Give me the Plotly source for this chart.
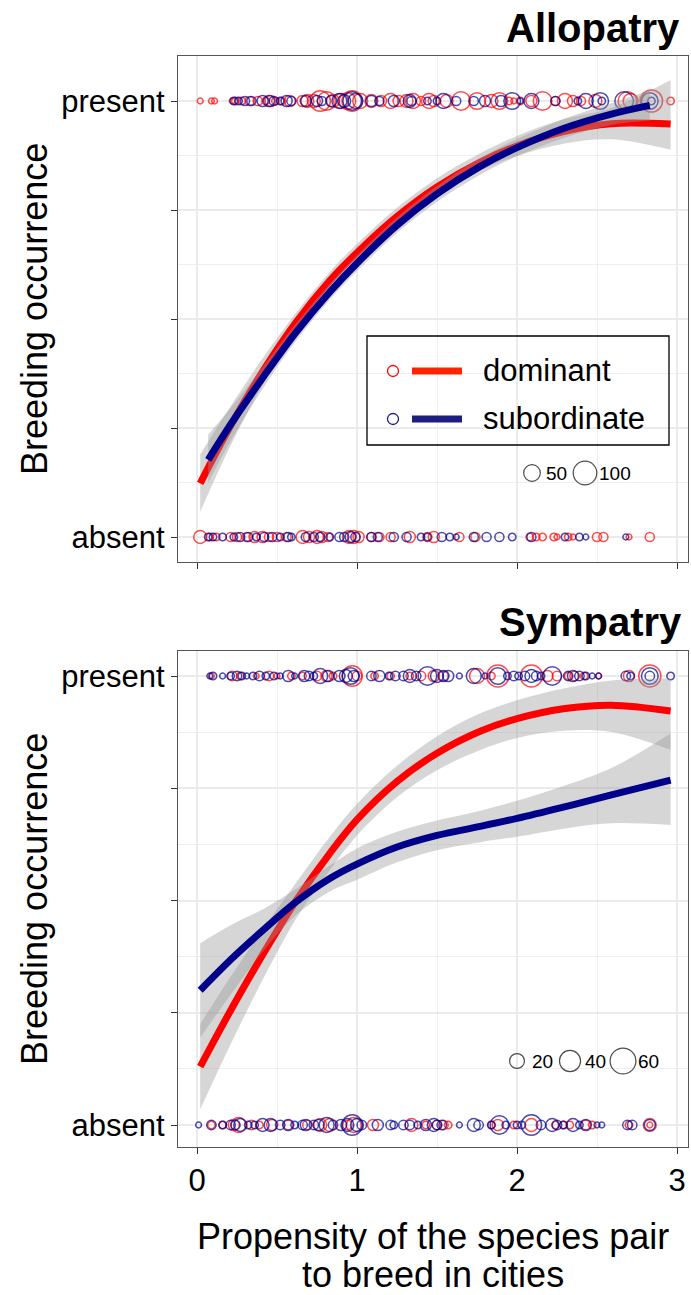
import plotly.graph_objects as go

# ---------------- data ----------------
# Allopatry (top panel) : raw observations (x = propensity, n = sample size)
allo_dom_pres_x = [0.02,0.09,0.11,0.22,0.24,0.28,0.33,0.38,0.43,0.46,0.49,0.53,0.58,0.66,0.69,0.73,0.77,0.81,0.85,0.90,0.94,0.97,1.02,1.09,1.15,1.21,1.26,1.31,1.35,1.40,1.45,1.48,1.56,1.65,1.75,1.84,1.89,1.95,1.98,2.02,2.09,2.16,2.24,2.30,2.35,2.40,2.49,2.69,2.71,2.84,2.96]
allo_dom_pres_n = [6,6,6,6,10,10,15,15,10,22,10,10,22,22,30,30,75,62,30,40,50,75,40,30,22,40,22,30,40,15,40,22,30,62,50,30,50,10,6,10,22,62,15,40,22,15,30,62,40,89,10]
allo_sub_pres_x = [0.23,0.26,0.30,0.34,0.41,0.45,0.48,0.52,0.56,0.59,0.68,0.75,0.78,0.84,0.89,0.92,0.97,0.99,1.09,1.14,1.23,1.33,1.34,1.44,1.50,1.54,1.62,1.73,1.80,1.90,1.97,2.02,2.09,2.24,2.38,2.43,2.52,2.53,2.67,2.83,2.84]
allo_sub_pres_n = [10,10,15,15,22,22,15,10,22,15,22,22,15,22,40,30,62,40,22,15,22,30,15,10,10,40,15,15,22,22,50,6,40,15,10,40,50,10,62,50,10]
allo_dom_abs_x = [0.02,0.08,0.12,0.21,0.25,0.31,0.36,0.41,0.45,0.50,0.56,0.66,0.70,0.75,0.78,0.82,0.95,0.98,1.01,1.09,1.14,1.21,1.33,1.44,1.48,1.64,1.74,2.08,2.12,2.16,2.23,2.25,2.32,2.35,2.50,2.54,2.70,2.83]
allo_dom_abs_n = [30,10,10,15,15,15,22,22,15,15,15,30,22,30,22,15,30,30,22,15,15,15,22,15,22,15,15,10,10,10,10,6,10,6,15,15,6,15]
allo_sub_abs_x = [0.07,0.10,0.16,0.23,0.27,0.32,0.37,0.42,0.47,0.52,0.57,0.59,0.68,0.73,0.77,0.83,0.89,0.92,0.96,0.99,1.09,1.13,1.23,1.31,1.40,1.44,1.53,1.58,1.62,1.73,1.81,1.89,1.97,2.09,2.30,2.39,2.43,2.68]
allo_sub_abs_n = [10,10,10,10,15,15,10,15,15,10,15,10,15,15,15,10,15,15,22,15,15,15,15,15,10,10,15,10,6,15,15,15,10,15,10,10,6,6]

# Allopatry fitted curves with confidence band
allo_dom_fit_x = [0.02,0.21,0.42,0.62,0.83,1.00,1.25,1.50,1.77,2.00,2.29,2.59,2.96]
allo_dom_fit_y = [0.123,0.255,0.385,0.493,0.588,0.652,0.735,0.803,0.860,0.897,0.930,0.948,0.947]
allo_dom_fit_lo = [0.058,0.21,0.355,0.471,0.568,0.632,0.715,0.783,0.84,0.874,0.902,0.912,0.888]
allo_dom_fit_hi = [0.19,0.30,0.415,0.515,0.608,0.672,0.755,0.823,0.88,0.92,0.958,0.984,1.048]
allo_sub_fit_x = [0.07,0.21,0.42,0.62,0.83,1.00,1.25,1.50,1.77,2.00,2.29,2.59,2.83]
allo_sub_fit_y = [0.177,0.258,0.37,0.47,0.562,0.628,0.715,0.787,0.85,0.893,0.937,0.97,0.99]
allo_sub_fit_lo = [0.125,0.22,0.345,0.45,0.544,0.61,0.697,0.769,0.831,0.873,0.915,0.945,0.955]
allo_sub_fit_hi = [0.235,0.296,0.395,0.49,0.58,0.646,0.733,0.805,0.869,0.913,0.959,0.995,1.025]

# Sympatry (bottom panel)
sym_sub_pres_x = [0.08,0.10,0.16,0.21,0.25,0.28,0.31,0.35,0.39,0.43,0.48,0.52,0.57,0.61,0.67,0.70,0.73,0.77,0.82,0.89,0.93,0.96,0.98,1.09,1.14,1.20,1.24,1.29,1.33,1.37,1.44,1.50,1.54,1.57,1.64,1.73,1.80,1.88,1.94,1.98,2.01,2.05,2.09,2.12,2.15,2.22,2.32,2.35,2.39,2.43,2.47,2.51,2.68,2.71,2.83,2.83,2.96]
sym_sub_pres_n = [3,5,3,5,8,5,3,5,8,5,5,3,11,3,11,8,5,20,11,11,15,25,11,8,11,5,8,8,15,8,31,15,11,11,3,20,3,25,5,8,5,8,15,8,5,31,8,11,8,5,3,3,8,5,25,8,5]
sym_dom_pres_x = [0.09,0.22,0.27,0.37,0.45,0.50,0.59,0.66,0.75,0.81,0.85,0.97,1.00,1.11,1.21,1.33,1.40,1.48,1.54,1.75,1.84,1.88,2.09,2.19,2.25,2.32,2.36,2.42,2.51,2.70,2.83]
sym_dom_pres_n = [3,8,5,3,8,3,5,5,8,11,5,37,8,5,5,5,8,11,8,20,5,44,44,11,8,5,8,5,3,11,44]
sym_sub_abs_x = [0.01,0.09,0.16,0.21,0.24,0.27,0.32,0.36,0.41,0.46,0.52,0.57,0.61,0.66,0.68,0.73,0.76,0.81,0.85,0.90,0.94,0.97,1.00,1.03,1.13,1.21,1.23,1.29,1.33,1.38,1.43,1.48,1.50,1.53,1.64,1.73,1.76,1.84,1.89,1.93,2.00,2.03,2.09,2.15,2.22,2.25,2.29,2.35,2.39,2.43,2.50,2.53,2.69,2.72,2.83]
sym_sub_abs_n = [3,8,5,8,8,15,5,5,15,15,8,11,5,8,11,8,11,20,8,11,15,37,15,8,11,8,5,8,8,5,11,15,8,8,3,15,8,5,31,5,5,5,37,8,15,8,5,15,5,11,3,3,8,8,11]
sym_dom_abs_x = [0.09,0.16,0.23,0.26,0.34,0.39,0.47,0.57,0.69,0.77,0.83,0.94,0.98,1.10,1.34,1.43,1.50,1.54,1.57,1.84,1.88,1.98,2.09,2.24,2.29,2.33,2.43,2.47,2.70,2.83,2.83]
sym_dom_abs_n = [5,5,11,20,8,5,11,8,8,15,15,8,20,11,15,5,8,8,5,5,11,5,15,5,5,5,8,5,5,15,3]

sym_dom_fit_x = [0.02,0.21,0.42,0.62,0.83,1.00,1.25,1.50,1.77,2.00,2.29,2.59,2.96]
sym_dom_fit_y = [0.13,0.255,0.385,0.50,0.605,0.68,0.765,0.828,0.877,0.905,0.927,0.935,0.922]
sym_dom_fit_lo = [0.035,0.18,0.33,0.46,0.568,0.645,0.73,0.79,0.835,0.862,0.878,0.875,0.835]
sym_dom_fit_hi = [0.225,0.33,0.44,0.54,0.642,0.715,0.80,0.866,0.917,0.946,0.972,0.99,0.995]
sym_sub_fit_x = [0.02,0.21,0.42,0.62,0.83,1.00,1.25,1.50,1.77,2.00,2.29,2.59,2.96]
sym_sub_fit_y = [0.30,0.368,0.436,0.497,0.549,0.581,0.619,0.645,0.665,0.683,0.708,0.735,0.768]
sym_sub_fit_lo = [0.195,0.29,0.39,0.468,0.52,0.546,0.585,0.612,0.63,0.642,0.66,0.672,0.668]
sym_sub_fit_hi = [0.405,0.445,0.482,0.526,0.578,0.616,0.653,0.678,0.70,0.722,0.755,0.795,0.872]

y_tickvals = [0, 0.25, 0.5, 0.75, 1]
y_ticktext = ["absent", "", "", "", "present"]
x_tickvals = [0, 1, 2, 3]
size_legend_top = [50, 100]
size_legend_bot = [20, 40, 60]
group_labels = ["dominant", "subordinate"]

# ---------------- styling ----------------
W, H = 691, 1295
FONT = "Liberation Sans, Arial, Helvetica, sans-serif"
RED = "#FF0000"
BLUE = "#00008B"
RIBBON = "rgba(153,153,153,0.4)"
SREF_TOP = 0.36
SREF_BOT = 0.18
PT_LW = 1.5


def px(x):
    return x / W


def py(y):
    return 1 - y / H


fig = go.Figure()


def points(xs, ns, yval, color, xa, ya, sref):
    fig.add_trace(go.Scatter(
        x=xs, y=[yval] * len(xs), mode="markers", xaxis=xa, yaxis=ya,
        marker=dict(symbol="circle-open", color=color, size=ns, sizemode="area",
                    sizeref=sref, sizemin=2, line=dict(width=PT_LW, color=color)),
        showlegend=False, hoverinfo="skip"))


def smooth(xs, ys, lo, hi, color, xa, ya):
    fig.add_trace(go.Scatter(x=xs, y=lo, mode="lines", line=dict(width=0, shape="spline"),
                             xaxis=xa, yaxis=ya, showlegend=False, hoverinfo="skip"))
    fig.add_trace(go.Scatter(x=xs, y=hi, mode="lines", line=dict(width=0, shape="spline"),
                             fill="tonexty", fillcolor=RIBBON,
                             xaxis=xa, yaxis=ya, showlegend=False, hoverinfo="skip"))
    fig.add_trace(go.Scatter(x=xs, y=ys, mode="lines", line=dict(width=7, color=color, shape="spline"),
                             xaxis=xa, yaxis=ya, showlegend=False, hoverinfo="skip"))


# top panel
points(allo_dom_pres_x, allo_dom_pres_n, 1, RED, "x", "y", SREF_TOP)
points(allo_dom_abs_x, allo_dom_abs_n, 0, RED, "x", "y", SREF_TOP)
points(allo_sub_pres_x, allo_sub_pres_n, 1, BLUE, "x", "y", SREF_TOP)
points(allo_sub_abs_x, allo_sub_abs_n, 0, BLUE, "x", "y", SREF_TOP)
smooth(allo_dom_fit_x, allo_dom_fit_y, allo_dom_fit_lo, allo_dom_fit_hi, RED, "x", "y")
smooth(allo_sub_fit_x, allo_sub_fit_y, allo_sub_fit_lo, allo_sub_fit_hi, BLUE, "x", "y")

# bottom panel
points(sym_dom_pres_x, sym_dom_pres_n, 1, RED, "x2", "y2", SREF_BOT)
points(sym_dom_abs_x, sym_dom_abs_n, 0, RED, "x2", "y2", SREF_BOT)
points(sym_sub_pres_x, sym_sub_pres_n, 1, BLUE, "x2", "y2", SREF_BOT)
points(sym_sub_abs_x, sym_sub_abs_n, 0, BLUE, "x2", "y2", SREF_BOT)
smooth(sym_dom_fit_x, sym_dom_fit_y, sym_dom_fit_lo, sym_dom_fit_hi, RED, "x2", "y2")
smooth(sym_sub_fit_x, sym_sub_fit_y, sym_sub_fit_lo, sym_sub_fit_hi, BLUE, "x2", "y2")

# axis geometry (pixels)
X0, X1 = 178, 688
XDATA0_PX, XPX_PER_UNIT = 197, 160
TOP = (56, 562, 537, 436)   # top px, bottom px, y=0 px, px per unit
BOT = (651, 1147, 1125, 449)


def xdata(p):
    return (p - XDATA0_PX) / XPX_PER_UNIT


def ydata(p, panel):
    return (panel[2] - p) / panel[3]


xrange = [xdata(X0), xdata(X1)]
shapes = []
annotations = []


# size legends (white key box + circles + labels)
def size_legend(vals, centers_px, yc_px, panel, xa, ya, sref, box, label_dx):
    x0b, x1b, y0b, y1b = box
    shapes.append(dict(type="rect", xref="paper", yref="paper", x0=px(x0b), x1=px(x1b),
                       y0=py(y1b), y1=py(y0b), fillcolor="white", line=dict(width=0),
                       layer="between"))
    fig.add_trace(go.Scatter(
        x=[xdata(c) for c in centers_px], y=[ydata(yc_px, panel)] * len(vals),
        mode="markers", xaxis=xa, yaxis=ya, showlegend=False, hoverinfo="skip",
        marker=dict(symbol="circle-open", color="black", size=vals, sizemode="area",
                    sizeref=sref, line=dict(width=1.2, color="black"))))
    for v, c in zip(vals, centers_px):
        annotations.append(dict(text=str(v), xref="paper", yref="paper", x=px(c + label_dx),
                                y=py(yc_px), xanchor="left", yanchor="middle", showarrow=False,
                                font=dict(size=19, color="black", family=FONT)))


size_legend(size_legend_top, [532, 585], 473, TOP, "x", "y", SREF_TOP, (518, 634, 459, 487), 12)
size_legend(size_legend_bot, [517, 570, 623], 1061, BOT, "x2", "y2", SREF_BOT, (504, 667, 1046, 1076), 13)

# group legend (box in top panel)
shapes.append(dict(type="rect", xref="paper", yref="paper", x0=px(367), x1=px(669),
                   y0=py(445), y1=py(336), line=dict(color="black", width=1.3), fillcolor="rgba(0,0,0,0)"))
leg_rows = [371, 419]
leg_pt_colors = [RED, "#1E1E82"]
leg_line_colors = ["#FF2400", "#1E1E82"]
fig.add_trace(go.Scatter(
    x=[xdata(393)] * 2, y=[ydata(r, TOP) for r in leg_rows], mode="markers",
    xaxis="x", yaxis="y", showlegend=False, hoverinfo="skip",
    marker=dict(symbol="circle-open", size=11, color=leg_pt_colors,
                line=dict(width=1.3, color=leg_pt_colors))))
for r, lc, lab in zip(leg_rows, leg_line_colors, group_labels):
    shapes.append(dict(type="line", xref="paper", yref="paper", x0=px(412), x1=px(462),
                       y0=py(r), y1=py(r), line=dict(color=lc, width=7)))
    annotations.append(dict(text=lab, xref="paper", yref="paper", x=px(481), y=py(r),
                            xanchor="left", yanchor="middle", showarrow=False,
                            font=dict(size=31, color="black", family=FONT)))

# panel titles
annotations.append(dict(text="<b>Allopatry</b>", xref="paper", yref="paper", x=px(682), y=py(28),
                        xanchor="right", yanchor="middle", showarrow=False,
                        font=dict(size=40, color="black", family=FONT)))
annotations.append(dict(text="<b>Sympatry</b>", xref="paper", yref="paper", x=px(684), y=py(622),
                        xanchor="right", yanchor="middle", showarrow=False,
                        font=dict(size=40, color="black", family=FONT)))
# y titles
for panel in (TOP, BOT):
    annotations.append(dict(text="Breeding occurrence", xref="paper", yref="paper", x=px(34),
                            y=py((panel[0] + panel[1]) / 2), xanchor="center", yanchor="middle",
                            textangle=-90, showarrow=False,
                            font=dict(size=36, color="black", family=FONT)))
# x title
for txt, yy in (("Propensity of the species pair", 1236), ("to breed in cities", 1274)):
    annotations.append(dict(text=txt, xref="paper", yref="paper", x=px((X0 + X1) / 2), y=py(yy),
                            xanchor="center", yanchor="middle", showarrow=False, borderpad=0,
                            font=dict(size=36, color="black", family=FONT)))

common_x = dict(range=xrange, tickmode="array", tickvals=x_tickvals, ticks="outside", ticklen=6,
                tickwidth=1.3, tickcolor="#333333", showline=True, mirror=True, linecolor="#555555",
                linewidth=1.3, showgrid=True, gridcolor="#EBEBEB", gridwidth=1.6, zeroline=False,
                minor=dict(tickvals=[0.5, 1.5, 2.5], showgrid=True, gridcolor="#EFEFEF", gridwidth=1),
                domain=[px(X0), px(X1)])
common_y = dict(tickmode="array", tickvals=y_tickvals, ticktext=y_ticktext, ticks="outside",
                ticklen=6, tickwidth=1.3, tickcolor="#333333", showline=True, mirror=True,
                linecolor="#555555", linewidth=1.3, showgrid=True, gridcolor="#EBEBEB", gridwidth=1.6,
                zeroline=False, tickfont=dict(size=31, color="black", family=FONT),
                minor=dict(tickvals=[0.125, 0.375, 0.625, 0.875], showgrid=True, gridcolor="#EFEFEF",
                           gridwidth=1))

fig.update_layout(
    width=W, height=H, margin=dict(l=0, r=0, t=0, b=0),
    paper_bgcolor="white", plot_bgcolor="white", showlegend=False,
    font=dict(family=FONT, color="black"),
    xaxis=dict(**common_x, anchor="y", showticklabels=False),
    yaxis=dict(**common_y, anchor="x", range=[ydata(TOP[1], TOP), ydata(TOP[0], TOP)],
               domain=[py(TOP[1]), py(TOP[0])]),
    xaxis2=dict(**common_x, anchor="y2", showticklabels=True,
                tickfont=dict(size=31, color="black", family=FONT)),
    yaxis2=dict(**common_y, anchor="x2", range=[ydata(BOT[1], BOT), ydata(BOT[0], BOT)],
                domain=[py(BOT[1]), py(BOT[0])]),
    shapes=shapes, annotations=annotations,
)

fig.write_html("out.html")
